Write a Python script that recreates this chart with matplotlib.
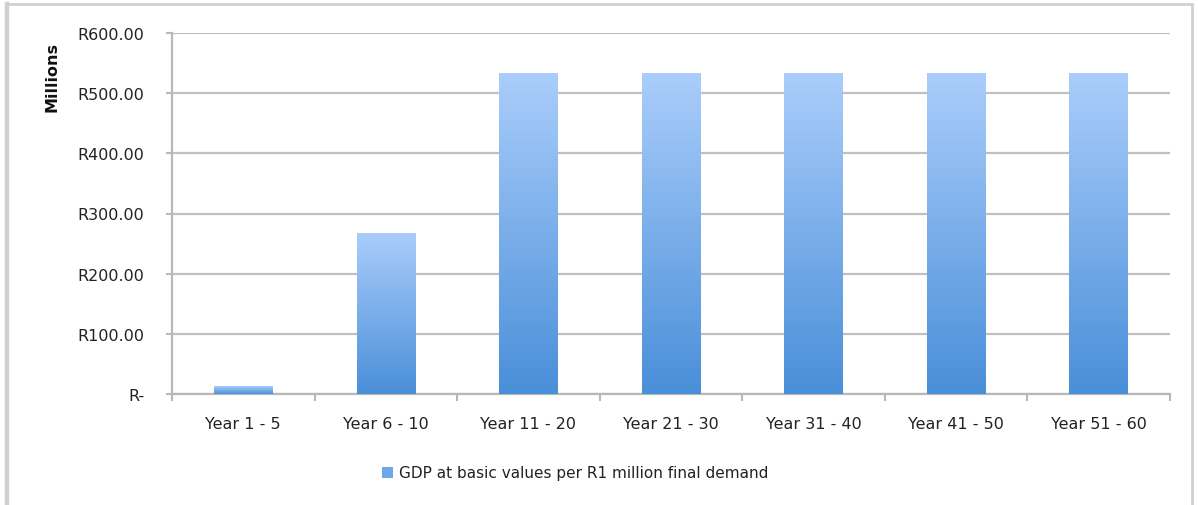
import matplotlib
matplotlib.use("Agg")
import matplotlib.pyplot as plt
import numpy as np
from matplotlib.colors import LinearSegmentedColormap
from matplotlib.patches import Rectangle, Patch
from matplotlib.ticker import FuncFormatter

# GDP at basic values per R1 million final demand (millions)
periods = ["Year 1 - 5", "Year 6 - 10", "Year 11 - 20", "Year 21 - 30",
           "Year 31 - 40", "Year 41 - 50", "Year 51 - 60"]
gdp = [12, 266, 532, 532, 532, 532, 532]
series_name = "GDP at basic values per R1 million final demand"

W, H = 1198, 506
fig = plt.figure(figsize=(W / 100, H / 100), dpi=100)
ax = fig.add_axes([172 / W, 1 - 395 / H, (1170 - 172) / W, (395 - 34) / H])

# outer chart frame
fig.patches.append(Rectangle((7 / W, -0.2), (1192 - 7) / W, 1.2 - 5 / H,
                             transform=fig.transFigure, fill=False,
                             edgecolor="#d0d0d0", linewidth=2.0, zorder=0))
fig.add_artist(plt.Line2D([7 / W, 7 / W], [0, 1 - 5 / H],
                          transform=fig.transFigure, color="#d0d0d0",
                          linewidth=3.2, zorder=0))

grad_cmap = LinearSegmentedColormap.from_list("bar", ["#4a8fd9", "#aacdfb"])
grad = np.linspace(0, 1, 256).reshape(-1, 1)

x = np.arange(len(periods))
width = 0.41
bars = ax.bar(x, gdp, width=width, color="none", zorder=3)
for b in bars:
    x0, y0 = b.get_x(), b.get_y()
    ax.imshow(grad, cmap=grad_cmap, origin="lower", aspect="auto",
              extent=[x0, x0 + b.get_width(), y0, y0 + b.get_height()],
              zorder=3, interpolation="bicubic")

ax.set_xlim(-0.5, len(periods) - 0.5)
ax.set_ylim(0, 600)
ax.set_yticks(np.arange(0, 601, 100))
ax.yaxis.set_major_formatter(FuncFormatter(
    lambda v, p: "R-" if v == 0 else "R{:.2f}".format(v)))
ax.grid(axis="y", color="#c0c0c0", linewidth=1.6, zorder=0)
ax.set_axisbelow(True)

for s in ["top", "right"]:
    ax.spines[s].set_visible(False)
for s in ["left", "bottom"]:
    ax.spines[s].set_color("#b8b8b8")
    ax.spines[s].set_linewidth(1.6)

ax.set_xticks(x)
ax.set_xticklabels(periods)
ax.set_xticks(np.arange(-0.5, len(periods)), minor=True)
ax.tick_params(axis="x", which="major", length=0, pad=16, labelsize=11.5,
               labelcolor="#222222")
ax.tick_params(axis="x", which="minor", length=5, width=1.5, color="#b8b8b8")
ax.tick_params(axis="y", length=4, width=1.5, color="#b8b8b8", pad=16,
               labelsize=11.5, labelcolor="#222222")

fig.text(52 / W, 1 - 77 / H, "Millions", rotation=90, ha="center",
         va="center", fontsize=11.5, fontweight="bold", color="#111111")

handle = Patch(facecolor="#6fa6e6", edgecolor="none")
fig.legend([handle], [series_name], loc="center", frameon=False,
           bbox_to_anchor=(575 / W, 1 - 474 / H), fontsize=11,
           handlelength=0.7, handleheight=0.7, handletextpad=0.4,
           labelcolor="#222222")

fig.savefig("out.png", dpi=100)
